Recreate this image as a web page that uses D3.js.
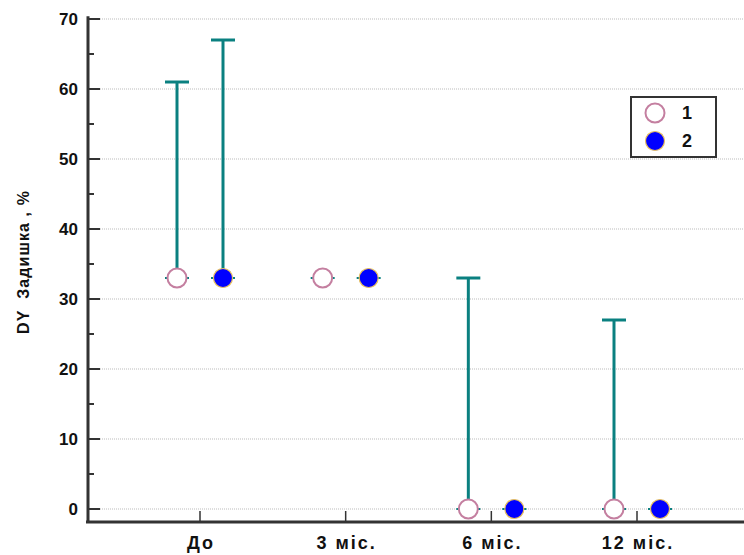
<!DOCTYPE html>
<html>
<head>
<meta charset="utf-8">
<script src="https://cdn.jsdelivr.net/npm/d3@7"></script>
<style>
  body { margin: 0; background: #fff; }
  text { font-family: "Liberation Sans", Arial, sans-serif; font-weight: bold; }
</style>
</head>
<body>
<div id="chart"></div>
<script>
// data
var categories = ["До", "3 міс.", "6 міс.", "12 міс."];
var series = ["1", "2"];
var means1 = [33, 33, 0, 0];
var upper1 = [61, 33, 33, 27];
var means2 = [33, 33, 0, 0];
var upper2 = [67, 33, 0, 0];
var yTicks = [0, 10, 20, 30, 40, 50, 60, 70];
var yMinor = [5, 15, 25, 35, 45, 55, 65];

var width = 744, height = 555;
var svg = d3.select("#chart").append("svg")
  .attr("width", width)
  .attr("height", height);

var y = d3.scaleLinear().domain([0, 70]).range([509, 19]);
var x = d3.scalePoint().domain(categories).range([200, 637]);
var offset = 23;
var axisColor = "#333";
var barColor = "#0a8080";

// grid
svg.append("g").selectAll("line")
  .data(yTicks)
  .enter().append("line")
  .attr("x1", 100).attr("x2", width)
  .attr("y1", d => y(d)).attr("y2", d => y(d))
  .style("stroke", "#bbb")
  .style("stroke-width", 1)
  .style("stroke-dasharray", "1,1");

// y axis
svg.append("line")
  .attr("x1", 88).attr("x2", 88)
  .attr("y1", y(70.4)).attr("y2", 523)
  .style("stroke", axisColor).style("stroke-width", 3);
svg.append("g").selectAll("line")
  .data(yTicks)
  .enter().append("line")
  .attr("x1", 88).attr("x2", 100)
  .attr("y1", d => y(d)).attr("y2", d => y(d))
  .style("stroke", axisColor).style("stroke-width", 2);
svg.append("g").selectAll("line")
  .data(yMinor)
  .enter().append("line")
  .attr("x1", 88).attr("x2", 94)
  .attr("y1", d => y(d)).attr("y2", d => y(d))
  .style("stroke", axisColor).style("stroke-width", 2);
svg.append("g").selectAll("text")
  .data(yTicks)
  .enter().append("text")
  .attr("x", 78).attr("y", d => y(d) + 6)
  .attr("text-anchor", "end")
  .style("font-size", "17px")
  .style("fill", "#111")
  .text(d => d);

svg.append("text")
  .attr("transform", "translate(29,262) rotate(-90)")
  .attr("text-anchor", "middle")
  .style("font-size", "16px")
  .style("letter-spacing", "1.1px")
  .style("fill", "#111")
  .style("white-space", "pre")
  .text("DY  Задишка , %");

// x axis
svg.append("line")
  .attr("x1", 86).attr("x2", width)
  .attr("y1", 522).attr("y2", 522)
  .style("stroke", axisColor).style("stroke-width", 3);
svg.append("g").selectAll("line")
  .data(categories)
  .enter().append("line")
  .attr("x1", d => x(d)).attr("x2", d => x(d))
  .attr("y1", 511).attr("y2", 522)
  .style("stroke", axisColor).style("stroke-width", 1.5);
svg.append("g").selectAll("text")
  .data(categories)
  .enter().append("text")
  .attr("x", d => x(d) + 1).attr("y", 549)
  .attr("text-anchor", "middle")
  .style("font-size", "18px")
  .style("letter-spacing", "2px")
  .style("fill", "#111")
  .text(d => d);

var points = [];
categories.forEach((c, i) => {
  points.push({cat: c, s: 0, mean: means1[i], up: upper1[i]});
  points.push({cat: c, s: 1, mean: means2[i], up: upper2[i]});
});
var px = d => x(d.cat) + (d.s == 0 ? -offset : offset);

// small horizontal marks behind markers
svg.append("g").selectAll("line")
  .data(points)
  .enter().append("line")
  .attr("x1", d => px(d) - 12).attr("x2", d => px(d) + 12)
  .attr("y1", d => y(d.mean)).attr("y2", d => y(d.mean))
  .style("stroke", barColor).style("stroke-width", 2);

// error bars (upper only)
var bars = points.filter(d => d.up > d.mean);
svg.append("g").selectAll("line")
  .data(bars)
  .enter().append("line")
  .attr("x1", px).attr("x2", px)
  .attr("y1", d => y(d.mean)).attr("y2", d => y(d.up))
  .style("stroke", barColor).style("stroke-width", 3);
svg.append("g").selectAll("line")
  .data(bars)
  .enter().append("line")
  .attr("x1", d => px(d) - 12).attr("x2", d => px(d) + 12)
  .attr("y1", d => y(d.up)).attr("y2", d => y(d.up))
  .style("stroke", barColor).style("stroke-width", 3);

// markers
function styleMarker(sel) {
  sel.attr("r", 9.5)
    .style("fill", d => d.s == 0 ? "#fff" : "#0000ff")
    .style("stroke", d => d.s == 0 ? "#c47fa0" : "#e8c060")
    .style("stroke-width", d => d.s == 0 ? 2 : 1.2);
}
svg.append("g").selectAll("circle")
  .data(points)
  .enter().append("circle")
  .attr("cx", px).attr("cy", d => y(d.mean))
  .call(styleMarker);

// legend
var lg = svg.append("g");
lg.append("rect")
  .attr("x", 631).attr("y", 97)
  .attr("width", 85).attr("height", 60)
  .style("fill", "#fff")
  .style("stroke", axisColor).style("stroke-width", 2);
lg.selectAll("circle")
  .data(series.map((s, i) => ({s: i})))
  .enter().append("circle")
  .attr("cx", 655).attr("cy", d => 113 + d.s * 28)
  .call(styleMarker);
lg.selectAll("text")
  .data(series)
  .enter().append("text")
  .attr("x", 682).attr("y", (d, i) => 119 + i * 28)
  .style("font-size", "18px")
  .style("fill", "#111")
  .text(d => d);
</script>
</body>
</html>
